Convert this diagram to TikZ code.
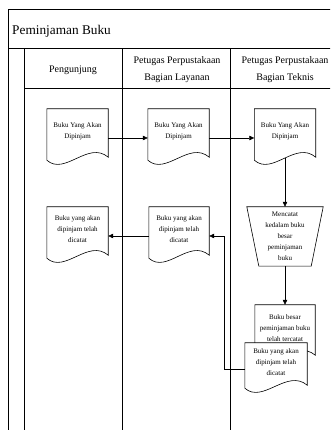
\documentclass[tikz,border=0pt]{standalone}
\usepackage{fontspec}
\setmainfont{Liberation Serif}
\usetikzlibrary{arrows.meta}
\tikzset{
  ln/.style={line width=0.6pt, draw=black},
  arr/.style={ln, -{Triangle[length=5pt,width=4.5pt]}},
  docarea/.style={inner sep=0pt, align=center, font=\fontsize{7}{11}\selectfont},
  hdr/.style={inner sep=0pt, align=center, font=\fontsize{10}{17}\selectfont},
}
\newcommand\docout[1]{\draw[ln] (#1.north west) -- (#1.north east) -- ([yshift=-3pt]#1.south east) .. controls +(-20pt,17pt) and +(18pt,-16pt) .. ([yshift=-6pt]#1.south west) -- cycle;}
\begin{document}
\begin{tikzpicture}[x=1pt,y=1pt]
\useasboundingbox (0,0) rectangle (330,430);
\clip (0,0) rectangle (330,430);
\fill[white] (0,0) rectangle (330,430);
% frame and lanes
\draw[ln] (8,-2) -- (8,421) -- (340,421);
\draw[ln] (8,382) -- (340,382);
\draw[ln] (24,-2) -- (24,382);
\draw[ln] (122,-2) -- (122,382);
\draw[ln] (230,-2) -- (230,382);
\draw[ln] (24,342) -- (340,342);
% title and headers
\node[anchor=west, inner sep=0pt, font=\fontsize{13.3}{16}\selectfont] (title) at (12,399) {Peminjaman Buku};
\node[hdr] (h1) at (73,360) {Pengunjung};
\node[hdr] (h2) at (177,360.5) {Petugas Perpustakaan\\Bagian Layanan};
\node[hdr] (h3) at (285,360.5) {Petugas Perpustakaan\\Bagian Teknis};
% documents row 1
\node[docarea, minimum width=61pt, minimum height=45pt] (d1) at (77.5,298.5) {Buku Yang Akan\\Dipinjam};
\docout{d1}
\node[docarea, minimum width=61pt, minimum height=45pt] (d2) at (178.5,298.5) {Buku Yang Akan\\Dipinjam};
\docout{d2}
\node[docarea, minimum width=61pt, minimum height=45pt] (d3) at (285,298.5) {Buku Yang Akan\\Dipinjam};
\docout{d3}
% row 2
\node[docarea, minimum width=61pt, minimum height=45pt] (d4) at (77.5,200.5) {Buku yang akan\\dipinjam telah\\dicatat};
\docout{d4}
\node[docarea, minimum width=60pt, minimum height=45pt] (d5) at (179,200.5) {Buku yang akan\\dipinjam telah\\dicatat};
\docout{d5}
% manual operation
\node[docarea, minimum width=76pt, minimum height=59pt] (tr) at (285,193.5) {Mencatat\\kedalam buku\\besar\\peminjaman\\buku};
\draw[ln] (tr.north west) -- (tr.north east) -- ([xshift=-12pt]tr.south east) -- ([xshift=12pt]tr.south west) -- cycle;
% stacked documents
\node[docarea, minimum width=60pt, minimum height=47pt] (d6) at (285,101.5) {Buku besar\\peminjaman buku\\telah tercatat};
\docout{d6}
\node[docarea, fill=white, minimum width=62pt, minimum height=39pt] (d7) at (276,67.5) {Buku yang akan\\dipinjam telah\\dicatat};
\docout{d7}
% connectors
\coordinate (cx) at (224,0);
\draw[arr] ([yshift=-6.5pt]d1.east) -- ([yshift=-6.5pt]d2.west);
\draw[arr] ([yshift=-6.5pt]d2.east) -- ([yshift=-6.5pt]d3.west);
\draw[arr] ([yshift=-4pt]d3.south) -- (tr.north);
\draw[arr] (tr.south) -- (d6.north);
\draw[arr] ([yshift=-6.5pt]d5.west) -- ([yshift=-6.5pt]d4.east);
\draw[arr] ([yshift=-6.5pt]d7.west) -- ([yshift=-6.5pt]d7.west -| cx) |- ([yshift=-6.5pt]d5.east);
\end{tikzpicture}
\end{document}
